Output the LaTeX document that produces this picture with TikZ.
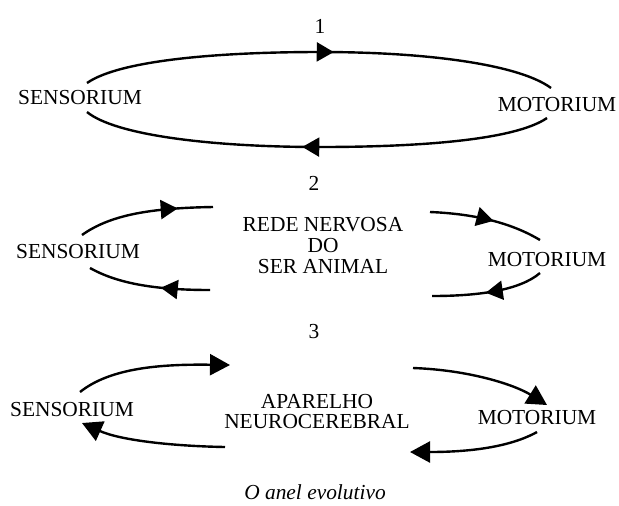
\documentclass[tikz,border=0pt]{standalone}
\usepackage{fontspec}
\setmainfont{Liberation Serif}
\usetikzlibrary{arrows.meta,decorations.markings}
\tikzset{
  loopline/.style={line width=1.2pt},
  midtip/.style={postaction={decorate},decoration={markings,
    mark=at position #1 with {\arrow{Triangle[length=8.5pt,width=9.5pt]}}}},
  endtip/.style={-{Triangle[length=10pt,width=10.5pt]}},
  lbl/.style={font=\fontsize{10.7}{10.5}\selectfont, inner sep=0pt, align=center},
}

\begin{document}
\begin{tikzpicture}[x=0.5pt,y=-0.5pt]
  \useasboundingbox (0,0) rectangle (619,505);
  % stage 1
  \node[lbl] (numA) at (320,26) {1};
  \node[lbl] (sensA) at (80,98) {SENSORIUM};
  \node[lbl] (motA) at (557,105) {MOTORIUM};
  \coordinate (aSt) at (87,83);  \coordinate (aMt) at (551,88);
  \coordinate (aSb) at (87,112); \coordinate (aMb) at (547,118);
  \draw[loopline, midtip=0.53] (aSt) .. controls (120,60) and (220,52) .. (320,52)
    .. controls (430,52) and (520,65) .. (aMt);
  \draw[loopline, midtip=0.53] (aMb) .. controls (515,140) and (420,147) .. (320,147)
    .. controls (210,147) and (115,135) .. (aSb);
  % stage 2
  \node[lbl] (numB) at (314,183) {2};
  \node[lbl] (sensB) at (78,252) {SENSORIUM};
  \node[lbl] (motB) at (547,260) {MOTORIUM};
  \node[lbl, font=\fontsize{10.7}{10.5}\selectfont] (rede) at (323,246) {REDE NERVOSA\\DO\\SER ANIMAL};
  \coordinate (bSt) at (82,235);  \coordinate (bRl) at (213,207);
  \coordinate (bSb) at (90,268);  \coordinate (bRlb) at (210,290);
  \coordinate (bRr) at (430,212); \coordinate (bMt) at (540,240);
  \coordinate (bMb) at (540,273); \coordinate (bRrb) at (432,296);
  \draw[loopline, midtip=0.74] (bSt) .. controls (110,215) and (150,208) .. (bRl);
  \draw[loopline, midtip=0.40] (bRlb) .. controls (150,290) and (115,282) .. (bSb);
  \draw[loopline, midtip=0.56] (bRr) .. controls (480,214) and (515,225) .. (bMt);
  \draw[loopline, midtip=0.52] (bMb) .. controls (520,290) and (480,296) .. (bRrb);
  % stage 3
  \node[lbl] (numC) at (314,332) {3};
  \node[lbl] (sensC) at (72,410) {SENSORIUM};
  \node[lbl] (motC) at (537,418) {MOTORIUM};
  \node[lbl, font=\fontsize{10.7}{10}\selectfont] (apar) at (317,412) {APARELHO\\NEUROCEREBRAL};
  \coordinate (cSt) at (80,392);  \coordinate (cAl) at (230,365);
  \coordinate (cSb) at (82,423);  \coordinate (cAlb) at (225,447);
  \coordinate (cAr) at (413,368); \coordinate (cMt) at (547,405);
  \coordinate (cMb) at (537,432); \coordinate (cArb) at (410,452);
  \draw[loopline, endtip] (cSt) .. controls (110,368) and (160,364) .. (cAl);
  \draw[loopline, endtip] (cAlb) .. controls (170,446) and (120,440) .. (cSb);
  \draw[loopline, endtip] (cAr) .. controls (470,370) and (515,385) .. (cMt);
  \draw[loopline, endtip] (cMb) .. controls (510,447) and (470,452) .. (cArb);
  \node[lbl, font=\fontsize{10.7}{10.5}\selectfont\itshape] (capt) at (315,492) {O anel evolutivo};
\end{tikzpicture}
\end{document}
